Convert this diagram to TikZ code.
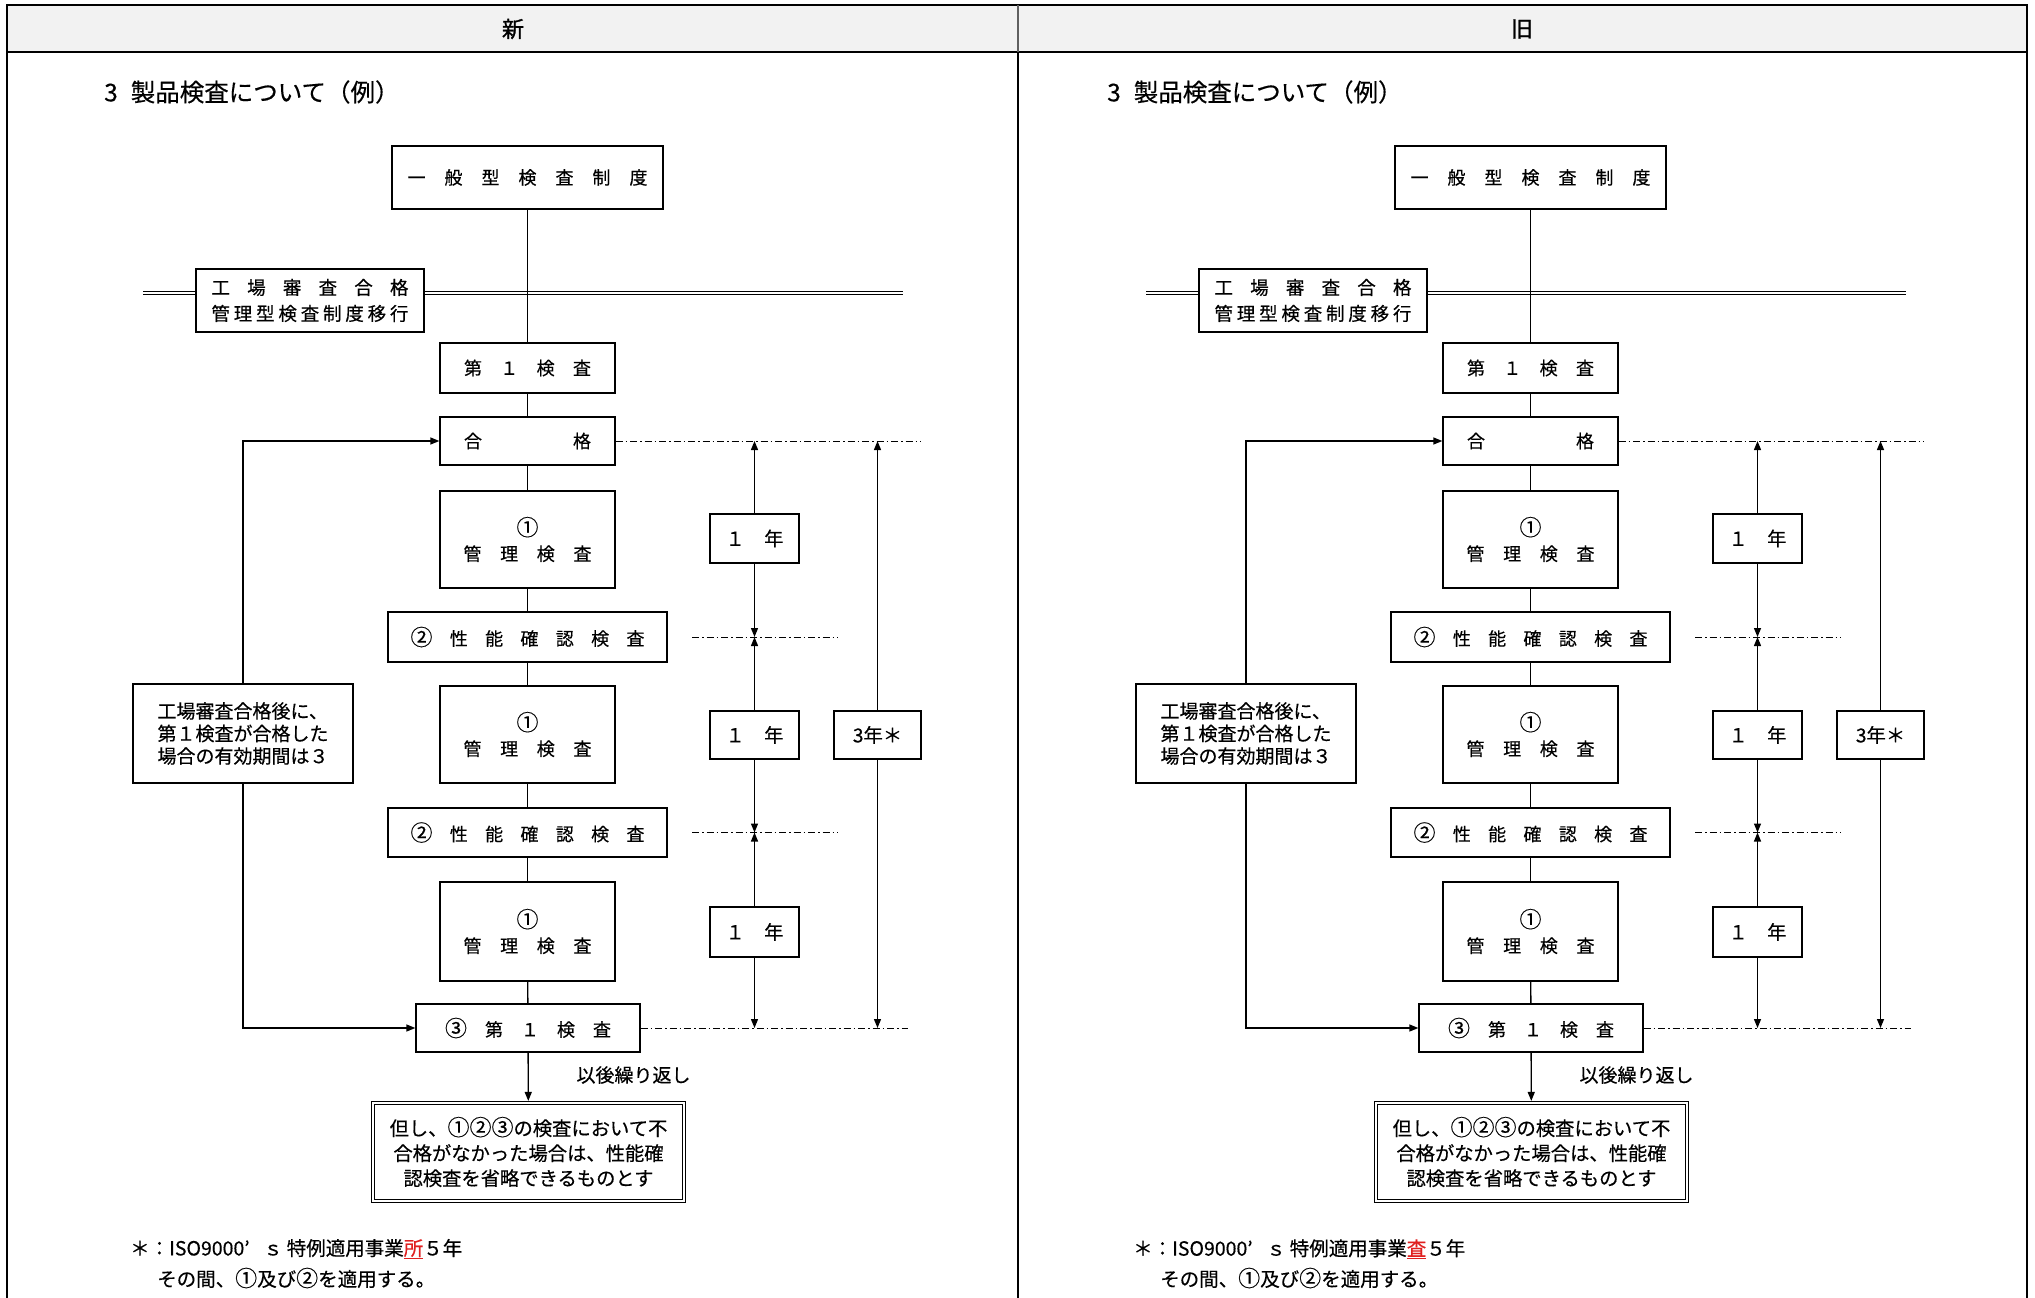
\documentclass[tikz,border=0pt]{standalone}
\usepackage{fontspec}
\setmainfont[FakeBold=0.4]{Noto Sans CJK JP}
\newfontfamily\hdrfont[FakeBold=1.2]{Noto Sans CJK JP}
\usetikzlibrary{arrows.meta}
\definecolor{hdrgray}{HTML}{F2F2F2}
\definecolor{divgray}{HTML}{606060}
\definecolor{inkred}{HTML}{E02020}

\tikzset{
  bx/.style={draw, line width=1.3pt, inner sep=0pt, fill=white, align=center,
             font=\fontsize{18}{25}\selectfont},
  conn/.style={line width=1.3pt},
  tipline/.style={line width=1.3pt, -{Triangle[length=9pt,width=7pt]}},
  dd/.style={line width=1pt, dash pattern=on 7pt off 3pt on 1.5pt off 3pt},
  dline/.style={double, double distance=2.6pt, line width=1pt},
  txt/.style={inner sep=0pt, font=\fontsize{19}{25}\selectfont},
}
\newcommand{\bigc}[1]{{\fontsize{22}{22}\selectfont #1}}

\newcommand{\drawPanel}[3]{%
\begin{scope}[xshift=#2pt]
  % title
  \node[txt, anchor=west, font=\fontsize{24.5}{26}\selectfont] (#1title) at (104,92)
       {3\hspace{13pt}製品検査について（例）};
  % double line
  \coordinate (#1dl) at (143,293);
  \coordinate (#1dr) at (903,293);
  \draw[dline] (#1dl) -- (#1dr);
  % boxes
  \node[bx, minimum width=271pt, minimum height=63pt] (#1top) at (527.5,177.5)
       {\makebox[240pt]{一\hfill 般\hfill 型\hfill 検\hfill 査\hfill 制\hfill 度}};
  \node[bx, minimum width=228pt, minimum height=63pt, font=\fontsize{18.5}{26}\selectfont] (#1fac) at (310,300.5)
       {\makebox[197pt]{工\hfill 場\hfill 審\hfill 査\hfill 合\hfill 格}\\
        \makebox[197pt]{管\hfill 理\hfill 型\hfill 検\hfill 査\hfill 制\hfill 度\hfill 移\hfill 行}};
  \node[bx, minimum width=175pt, minimum height=50pt] (#1f1) at (527.5,368)
       {\makebox[127pt]{第\hfill １\hfill 検\hfill 査}};
  \node[bx, minimum width=175pt, minimum height=48pt] (#1ok) at (527.5,441)
       {\makebox[127pt]{合\hfill 格}};
  \node[bx, minimum width=175pt, minimum height=97pt] (#1m1) at (527.5,539.5)
       {\bigc{①}\\ \makebox[128pt]{管\hfill 理\hfill 検\hfill 査}};
  \node[bx, minimum width=279pt, minimum height=50pt] (#1p1) at (527.5,637)
       {\makebox[234pt]{\bigc{②}\hfill 性\hfill 能\hfill 確\hfill 認\hfill 検\hfill 査}};
  \node[bx, minimum width=175pt, minimum height=97pt] (#1m2) at (527.5,734.5)
       {\bigc{①}\\ \makebox[128pt]{管\hfill 理\hfill 検\hfill 査}};
  \node[bx, minimum width=279pt, minimum height=49pt] (#1p2) at (527.5,832.5)
       {\makebox[234pt]{\bigc{②}\hfill 性\hfill 能\hfill 確\hfill 認\hfill 検\hfill 査}};
  \node[bx, minimum width=175pt, minimum height=99pt] (#1m3) at (527.5,931.5)
       {\bigc{①}\\ \makebox[128pt]{管\hfill 理\hfill 検\hfill 査}};
  \node[bx, minimum width=224pt, minimum height=48pt] (#1c3) at (528,1028)
       {\makebox[166pt]{\bigc{③}\hfill 第\hfill １\hfill 検\hfill 査}};
  \node[bx, minimum width=311pt, minimum height=98pt, double, double distance=2pt, line width=1.1pt,
        font=\fontsize{19.3}{25}\selectfont] (#1tad) at (528.5,1152)
       {但し、\bigc{①②③}の検査において不\\合格がなかった場合は、性能確\\認検査を省略できるものとす};
  \node[txt] (#1rep) at (633.5,1075) {以後繰り返し};
  % left note
  \node[bx, minimum width=220pt, minimum height=99pt, line width=2.8pt, align=left,
        font=\fontsize{19}{22.5}\selectfont] (#1note) at (243,733.5)
       {工場審査合格後に、\\第１検査が合格した\\場合の有効期間は３};
  % year boxes
  \node[bx, minimum width=89pt, minimum height=49pt, font=\fontsize{19.3}{24}\selectfont] (#1y1) at (754.5,538.5) {１　年};
  \node[bx, minimum width=89pt, minimum height=48pt, font=\fontsize{19.3}{24}\selectfont] (#1y2) at (754.5,735) {１　年};
  \node[bx, minimum width=89pt, minimum height=50pt, font=\fontsize{19.3}{24}\selectfont] (#1y3) at (754.5,932) {１　年};
  \node[bx, minimum width=87pt, minimum height=48pt, font=\fontsize{19.3}{24}\selectfont] (#1y5) at (877.5,735) {3年＊};
  % main chain
  \draw[conn] (#1top) -- (#1f1);
  \draw[conn] (#1f1) -- (#1ok);
  \draw[conn] (#1ok) -- (#1m1);
  \draw[conn] (#1m1) -- (#1p1);
  \draw[conn] (#1p1) -- (#1m2);
  \draw[conn] (#1m2) -- (#1p2);
  \draw[conn] (#1p2) -- (#1m3);
  \draw[conn] (#1m3) -- (#1c3);
  \draw[tipline, shorten >=1.5pt] (#1c3) -- (#1tad);
  % loop
  \draw[tipline] (#1note.north) |- (#1ok.west);
  \draw[tipline] (#1note.south) |- (#1c3.west);
  % dash-dot levels
  \coordinate (#1e0) at (921,441);
  \coordinate (#1a1) at (692,637);
  \coordinate (#1b1) at (838,637);
  \coordinate (#1a2) at (692,832.5);
  \coordinate (#1b2) at (838,832.5);
  \coordinate (#1e3) at (908,1028);
  \draw[dd] (#1ok.east) -- (#1e0);
  \draw[dd] (#1a1) -- (#1b1);
  \draw[dd] (#1a2) -- (#1b2);
  \draw[dd] (#1c3.east) -- (#1e3);
  % year arrows
  \draw[tipline] (#1y1.north) -- (#1y1.north |- #1ok.east);
  \draw[tipline] (#1y1.south) -- (#1y1.south |- #1p1.east);
  \draw[tipline] (#1y2.north) -- (#1y2.north |- #1p1.east);
  \draw[tipline] (#1y2.south) -- (#1y2.south |- #1p2.east);
  \draw[tipline] (#1y3.north) -- (#1y3.north |- #1p2.east);
  \draw[tipline] (#1y3.south) -- (#1y3.south |- #1c3.east);
  \draw[tipline] (#1y5.north) -- (#1y5.north |- #1ok.east);
  \draw[tipline] (#1y5.south) -- (#1y5.south |- #1c3.east);
  % footnote
  \node[txt, anchor=west, font=\fontsize{19.5}{25}\selectfont] (#1fn1) at (130,1249)
       {＊：ISO9000\makebox[19pt][l]{’}ｓ\hspace{4pt}特例適用事業\textcolor{inkred}{\underline{#3}}５年};
  \node[txt, anchor=west, font=\fontsize{19.5}{25}\selectfont] (#1fn2) at (157,1278) {その間、\bigc{①}及び\bigc{②}を適用する。};
\end{scope}}

\begin{document}
\begin{tikzpicture}[x=1pt,y=-1pt]
  \useasboundingbox (0,0) rectangle (2035,1298);
  \fill[white] (0,0) rectangle (2035,1298);
  % table
  \fill[hdrgray] (7,5) rectangle (2027,52);
  \draw[line width=2pt] (6,5) -- (2028,5);
  \draw[line width=2pt] (6,52) -- (2028,52);
  \draw[line width=2pt] (7,5) -- (7,1298);
  \draw[line width=2pt] (2027,5) -- (2027,1298);
  \draw[line width=2pt, divgray] (1018,5) -- (1018,52);
  \draw[line width=2pt] (1018,52) -- (1018,1298);
  \node[inner sep=0pt, font=\hdrfont\fontsize{22}{26}\selectfont] (hnew) at (513,29) {新};
  \node[inner sep=0pt, font=\hdrfont\fontsize{22}{26}\selectfont] (hold) at (1522,29) {旧};
  \drawPanel{L}{0}{所}
  \drawPanel{R}{1003}{査}
\end{tikzpicture}
\end{document}
